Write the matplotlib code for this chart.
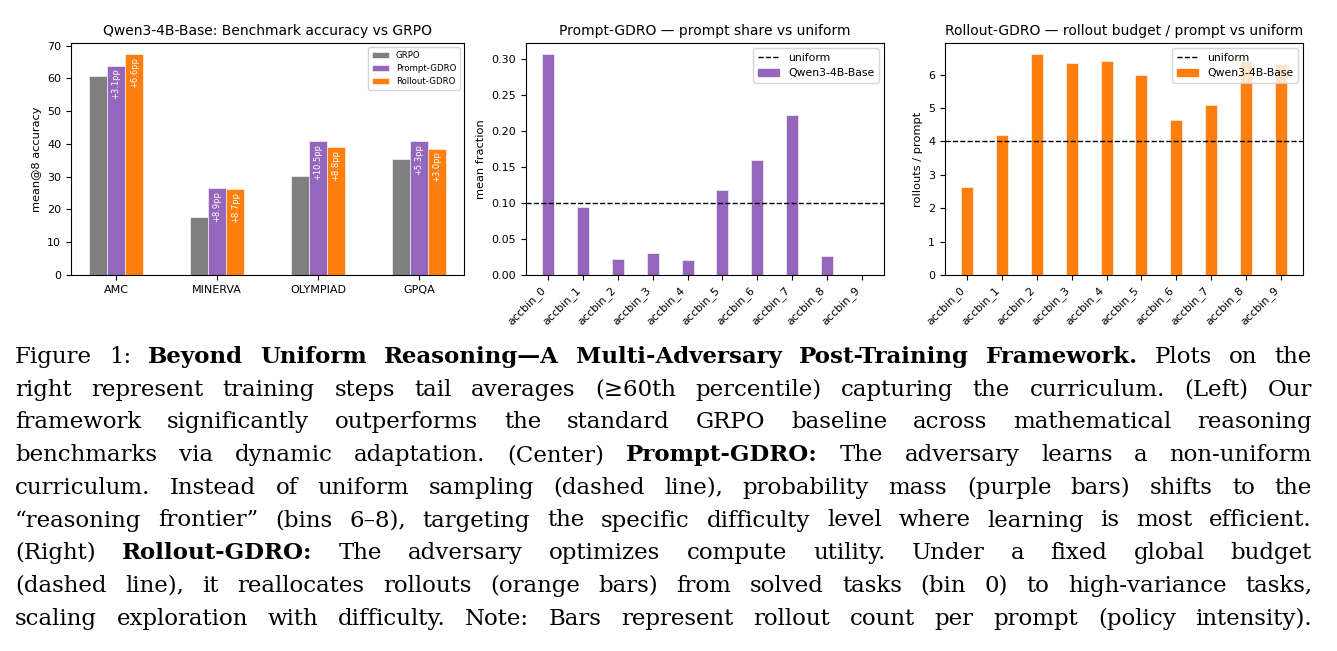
import matplotlib
matplotlib.use('Agg')
import matplotlib.pyplot as plt
from matplotlib.patches import Patch
from matplotlib.lines import Line2D
import numpy as np

plt.rcParams['font.family'] = ['DejaVu Sans']

# ---------------- data ----------------
benchmarks = ['AMC', 'MINERVA', 'OLYMPIAD', 'GPQA']
grpo = [60.8, 17.6, 30.3, 35.5]
prompt_gdro = [63.9, 26.5, 40.8, 40.8]
rollout_gdro = [67.4, 26.3, 39.1, 38.5]

bins = ['accbin_0', 'accbin_1', 'accbin_2', 'accbin_3', 'accbin_4',
        'accbin_5', 'accbin_6', 'accbin_7', 'accbin_8', 'accbin_9']
prompt_share = [0.307, 0.095, 0.022, 0.030, 0.021, 0.118, 0.160, 0.222, 0.026, 0.0]
uniform_share = 0.10
rollouts_per_prompt = [2.64, 4.19, 6.62, 6.34, 6.42, 5.98, 4.65, 5.10, 6.42, 6.32]
uniform_rollouts = 4.0

caption = [
    [("Figure 1:", False), ("Beyond Uniform Reasoning\u2014A Multi-Adversary Post-Training Framework.", True), ("Plots on the", False)],
    [("right represent training steps tail averages (\u226560th percentile) capturing the curriculum. (Left) Our", False)],
    [("framework significantly outperforms the standard GRPO baseline across mathematical reasoning", False)],
    [("benchmarks via dynamic adaptation. (Center)", False), ("Prompt-GDRO:", True), ("The adversary learns a non-uniform", False)],
    [("curriculum. Instead of uniform sampling (dashed line), probability mass (purple bars) shifts to the", False)],
    [("\u201creasoning frontier\u201d (bins 6\u20138), targeting the specific difficulty level where learning is most efficient.", False)],
    [("(Right)", False), ("Rollout-GDRO:", True), ("The adversary optimizes compute utility. Under a fixed global budget", False)],
    [("(dashed line), it reallocates rollouts (orange bars) from solved tasks (bin 0) to high-variance tasks,", False)],
    [("scaling exploration with difficulty. Note: Bars represent rollout count per prompt (policy intensity).", False)],
]

C_GRAY = '#7f7f7f'
C_PURPLE = '#9467bd'
C_ORANGE = '#ff7f0e'

W, H = 1337, 651
fig = plt.figure(figsize=(W / 100, H / 100), dpi=100)

TICK = 8.0
TITLE = 10.0
LABEL = 8.2


def ax_rect(x0, x1, y0, y1):
    return [x0 / W, 1 - y1 / H, (x1 - x0) / W, (y1 - y0) / H]


# ---------------- left panel ----------------
ax1 = fig.add_axes(ax_rect(71, 464, 43, 275))
x = np.arange(len(benchmarks))
w = 0.18
ax1.bar(x - w, grpo, w, color=C_GRAY, edgecolor='white', linewidth=0.4, label='GRPO')
ax1.bar(x, prompt_gdro, w, color=C_PURPLE, edgecolor='white', linewidth=0.4, label='Prompt-GDRO')
ax1.bar(x + w, rollout_gdro, w, color=C_ORANGE, edgecolor='white', linewidth=0.4, label='Rollout-GDRO')
for xi, g, p, r in zip(x, grpo, prompt_gdro, rollout_gdro):
    ax1.annotate(f'+{p - g:.1f}pp', (xi, p), xytext=(0, -2), textcoords='offset points',
                 rotation=90, ha='center', va='top', color='white', fontsize=6.0)
    ax1.annotate(f'+{r - g:.1f}pp', (xi + w, r), xytext=(0, -2), textcoords='offset points',
                 rotation=90, ha='center', va='top', color='white', fontsize=6.0)
ax1.set_xticks(x)
ax1.set_xticklabels(benchmarks, fontsize=TICK)
ax1.tick_params(axis='y', labelsize=TICK)
ax1.set_ylabel('mean@8 accuracy', fontsize=LABEL)
ax1.set_title('Qwen3-4B-Base: Benchmark accuracy vs GRPO', fontsize=TITLE)
ax1.legend(loc='upper right', fontsize=6.2)

# ---------------- middle panel ----------------
ax2 = fig.add_axes(ax_rect(526, 884, 43, 275))
xb = np.arange(len(bins))
ax2.bar(xb, prompt_share, 0.35, color=C_PURPLE, edgecolor='white', linewidth=0.4)
ax2.axhline(uniform_share, color='black', ls='--', lw=1)
ax2.set_xticks(xb)
ax2.set_xticklabels(bins, rotation=45, ha='right', fontsize=TICK)
ax2.tick_params(axis='y', labelsize=TICK)
ax2.set_ylabel('mean fraction', fontsize=LABEL)
ax2.set_title('Prompt-GDRO \u2014 prompt share vs uniform', fontsize=TITLE)
ax2.legend(handles=[Line2D([], [], color='black', ls='--', lw=1, label='uniform'),
                    Patch(color=C_PURPLE, label='Qwen3-4B-Base')],
           loc='upper right', fontsize=7.8)

# ---------------- right panel ----------------
ax3 = fig.add_axes(ax_rect(945, 1303, 43, 275))
ax3.bar(xb, rollouts_per_prompt, 0.35, color=C_ORANGE, edgecolor='white', linewidth=0.4)
ax3.axhline(uniform_rollouts, color='black', ls='--', lw=1)
ax3.set_xticks(xb)
ax3.set_xticklabels(bins, rotation=45, ha='right', fontsize=TICK)
ax3.tick_params(axis='y', labelsize=TICK)
ax3.set_ylabel('rollouts / prompt', fontsize=LABEL)
ax3.set_title('Rollout-GDRO \u2014 rollout budget / prompt vs uniform', fontsize=TITLE)
ax3.legend(handles=[Line2D([], [], color='black', ls='--', lw=1, label='uniform'),
                    Patch(color=C_ORANGE, label='Qwen3-4B-Base')],
           loc='upper right', fontsize=7.8)

# ---------------- caption (justified) ----------------
renderer = fig.canvas.get_renderer()
CAP_FONT = 'DejaVu Serif'
cap_size = 16.5
x_left, x_right = 15, 1312
baseline0, line_gap = 363, 32.7

line_texts = []
for li, segs in enumerate(caption):
    y = 1 - (baseline0 + li * line_gap) / H
    words = []
    for seg, bold in segs:
        for wd in seg.split(' '):
            t = fig.text(0, y, wd, fontsize=cap_size, family=CAP_FONT,
                         fontweight='bold' if bold else 'normal', va='baseline', ha='left')
            words.append(t)
    line_texts.append(words)

em_px = cap_size * 100 / 72
need = []
for words in line_texts:
    tot = sum(t.get_window_extent(renderer).width for t in words)
    need.append(tot + (len(words) - 1) * 0.22 * em_px)
scale = min(1.0, (x_right - x_left) / max(need))
if scale < 1.0:
    for words in line_texts:
        for t in words:
            t.set_fontsize(cap_size * scale)

for words in line_texts:
    widths = [t.get_window_extent(renderer).width for t in words]
    gap = ((x_right - x_left) - sum(widths)) / max(len(words) - 1, 1)
    xp = x_left
    for t, wd in zip(words, widths):
        t.set_x(xp / W)
        xp += wd + gap

fig.savefig('out.png', dpi=100)
